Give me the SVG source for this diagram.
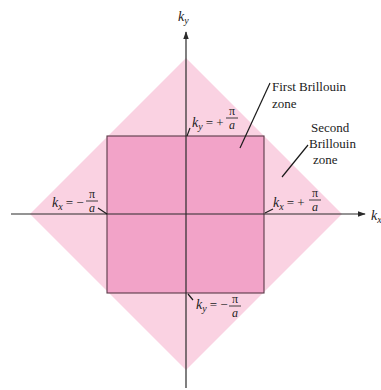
<svg xmlns="http://www.w3.org/2000/svg" width="381" height="390" viewBox="0 0 381 390">
<style>
text{font-family:"Liberation Serif","DejaVu Serif",serif;fill:#222222;font-size:13px}
.k{font-style:italic;font-size:14px}
.s{font-style:italic;font-size:10px}
.op{font-size:13px}
.fr{font-size:12px}
.ax{stroke:#2a2a2a;stroke-width:1.2;fill:none}
.ld{stroke:#1a1a1a;stroke-width:1.2;fill:none}
.bar{stroke:#2a2a2a;stroke-width:0.9}
</style>
<defs>
<marker id="arr" viewBox="0 0 10 10" refX="9" refY="5" markerWidth="8" markerHeight="8" orient="auto" markerUnits="userSpaceOnUse">
<path d="M0,1.5 L10,5 L0,8.5 Z" fill="#2a2a2a"/>
</marker>
</defs>
<rect width="381" height="390" fill="#ffffff"/>
<g id="second-zone">
<polygon points="186,58 342,214 186,370 30,214" fill="#fad2e2"/>
</g>
<g id="first-zone">
<rect x="107" y="136" width="157" height="157" fill="#f2a3c8" stroke="#5a3a48" stroke-width="1.1"/>
</g>
<g id="connectors">
<line class="ax" x1="186" y1="388" x2="186" y2="32" marker-end="url(#arr)"/>
<line class="ax" x1="11" y1="214" x2="365" y2="214" marker-end="url(#arr)"/>
<line class="ld" x1="190" y1="128" x2="187" y2="136"/>
<line class="ld" x1="98" y1="208" x2="107" y2="214"/>
<line class="ld" x1="265" y1="213" x2="273" y2="209"/>
<line class="ld" x1="188" y1="294" x2="193" y2="300"/>
<line class="ld" x1="240" y1="148" x2="270" y2="83"/>
<line class="ld" x1="282" y1="177" x2="308" y2="145"/>
</g>
<g id="axis-labels">
<text x="178" y="21"><tspan class="k">k</tspan><tspan class="s" dy="3">y</tspan></text>
<text x="371" y="220"><tspan class="k">k</tspan><tspan class="s" dy="3">x</tspan></text>
</g>
<g id="label-ky-plus">
<text x="192" y="127"><tspan class="k">k</tspan><tspan class="s" dy="3">y</tspan><tspan class="op" dy="-3" dx="3">= +</tspan></text>
<text x="232" y="115" class="fr" text-anchor="middle">π</text>
<line class="bar" x1="226" y1="118" x2="238" y2="118"/>
<text x="232" y="129" class="fr" text-anchor="middle" font-style="italic">a</text>
</g>
<g id="label-ky-minus">
<text x="196" y="309"><tspan class="k">k</tspan><tspan class="s" dy="3">y</tspan><tspan class="op" dy="-3" dx="3">= −</tspan></text>
<text x="235" y="303" class="fr" text-anchor="middle">π</text>
<line class="bar" x1="229" y1="306" x2="241" y2="306"/>
<text x="235" y="317" class="fr" text-anchor="middle" font-style="italic">a</text>
</g>
<g id="label-kx-minus">
<text x="52" y="207"><tspan class="k">k</tspan><tspan class="s" dy="3">x</tspan><tspan class="op" dy="-3" dx="3">= −</tspan></text>
<text x="92" y="198" class="fr" text-anchor="middle">π</text>
<line class="bar" x1="86" y1="201" x2="98" y2="201"/>
<text x="92" y="212" class="fr" text-anchor="middle" font-style="italic">a</text>
</g>
<g id="label-kx-plus">
<text x="273" y="207"><tspan class="k">k</tspan><tspan class="s" dy="3">x</tspan><tspan class="op" dy="-3" dx="3">= +</tspan></text>
<text x="315" y="197" class="fr" text-anchor="middle">π</text>
<line class="bar" x1="309" y1="200" x2="321" y2="200"/>
<text x="315" y="211" class="fr" text-anchor="middle" font-style="italic">a</text>
</g>
<g id="label-first">
<text x="272" y="91">First Brillouin</text>
<text x="272" y="108">zone</text>
</g>
<g id="label-second">
<text x="311" y="132">Second</text>
<text x="309" y="148">Brillouin</text>
<text x="313" y="164">zone</text>
</g>
</svg>
